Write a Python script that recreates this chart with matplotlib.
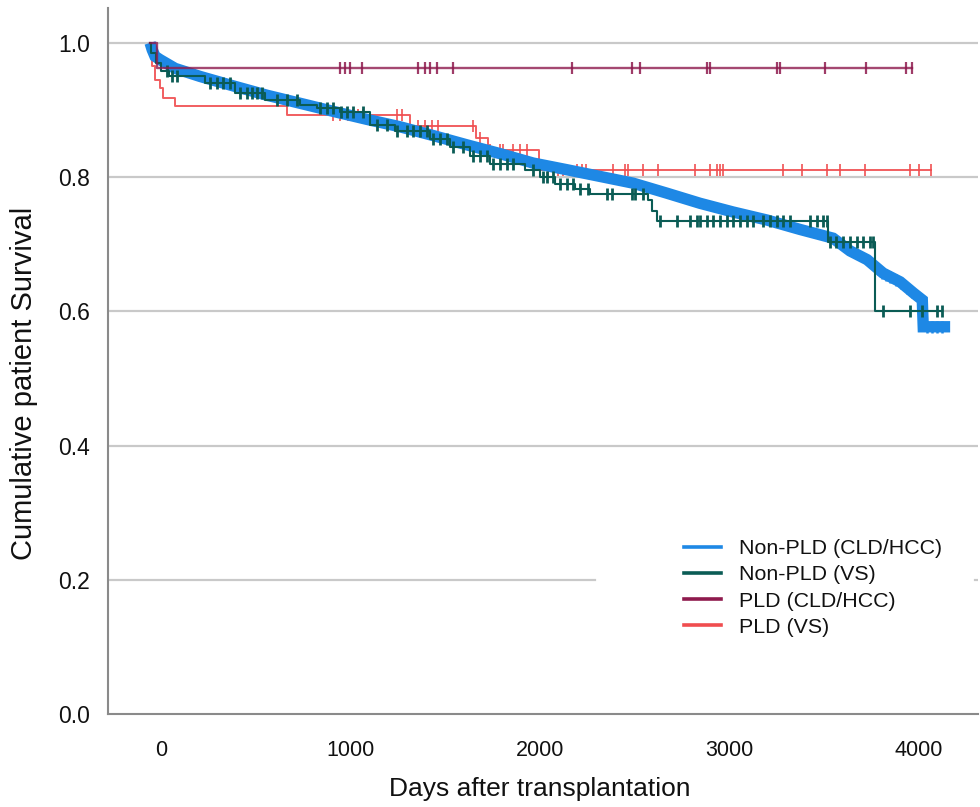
import numpy as np
import matplotlib.pyplot as plt
import matplotlib.transforms as mtransforms

plt.rcParams['font.family'] = ['Liberation Sans', 'DejaVu Sans']

# ---- values (days, cumulative survival) ----
# Non-PLD (CLD/HCC): very dense curve, read as points along the band
blue_days = [0, 11, 26, 53, 132, 264, 438, 617, 792, 966, 1145, 1319, 1493,
             1673, 1847, 2021, 2200, 2375, 2549, 2728, 2902, 3077, 3256, 3430,
             3604, 3694, 3784, 3868, 3958, 4030, 4075, 4080, 4222]
blue_surv = [1.0, 0.99, 0.98, 0.975, 0.962, 0.95, 0.936, 0.922, 0.91, 0.898,
             0.886, 0.875, 0.862, 0.848, 0.835, 0.821, 0.811, 0.801, 0.791,
             0.776, 0.761, 0.748, 0.736, 0.722, 0.709, 0.69, 0.677, 0.657,
             0.644, 0.627, 0.617, 0.577, 0.577]
blue_censor = [3840, 3865, 3885, 3905, 3935, 3965, 3995, 4020,
               4100, 4127, 4153, 4179]

# Non-PLD (VS)
teal_event_days = [5, 30, 60, 100, 290, 449, 607, 792, 881, 1003, 1161, 1293,
                   1478, 1583, 1689, 1794, 1979, 2058, 2137, 2243, 2322, 2628,
                   2649, 2675, 3578, 3826]
teal_event_surv = [0.985, 0.97, 0.958, 0.95, 0.94, 0.925, 0.915, 0.908, 0.903,
                   0.897, 0.878, 0.868, 0.857, 0.845, 0.832, 0.82, 0.81, 0.80,
                   0.79, 0.782, 0.775, 0.766, 0.75, 0.735, 0.703, 0.600]
teal_censor = [90, 116, 142, 317, 354, 385, 422, 475, 512, 538, 565, 591, 670,
               723, 776, 897, 934, 966, 1010, 1040, 1071, 1124, 1198, 1251,
               1303, 1356, 1388, 1425, 1462, 1493, 1530, 1567, 1599, 1652,
               1704, 1741, 1778, 1810, 1847, 1884, 1916, 2021, 2074, 2095,
               2127, 2163, 2200, 2232, 2269, 2311, 2411, 2438, 2543, 2559,
               2601, 2690, 2781, 2850, 2887, 2902, 2939, 2971, 3008, 3045,
               3077, 3113, 3150, 3182, 3235, 3272, 3309, 3340, 3377, 3483,
               3520, 3552, 3570, 3590, 3620, 3657, 3694, 3731, 3762, 3799,
               3815, 3868, 4010, 4073, 4153, 4179]

# PLD (CLD/HCC)
maroon_event_days = [37]
maroon_event_surv = [0.962]
maroon_censor = [1003, 1029, 1055, 1119, 1414, 1451, 1478, 1514, 1599, 2227,
                 2543, 2586, 2939, 2955, 3309, 3324, 3562, 3778, 3989, 4020]

# PLD (VS)
red_event_days = [8, 26, 53, 69, 132, 723, 1372, 1720, 1784, 2053]
red_event_surv = [0.965, 0.945, 0.933, 0.918, 0.906, 0.893, 0.876, 0.858,
                  0.840, 0.811]
red_censor = [966, 1003, 1045, 1071, 1098, 1124, 1303, 1330, 1414, 1451, 1488,
              1520, 1704, 1741, 1794, 1847, 1863, 1916, 1953, 1990, 2100, 2153,
              2179, 2253, 2280, 2301, 2443, 2506, 2522, 2601, 2681, 2876, 2955,
              2992, 3008, 3024, 3340, 3441, 3573, 3641, 3773, 4010, 4058, 4121]

labels = ['Non-PLD (CLD/HCC)', 'Non-PLD (VS)', 'PLD (CLD/HCC)', 'PLD (VS)']
colors = ['#1e88e5', '#0b5c55', '#8e1a4d', '#f04d4f']
x_ticks = [0, 1000, 2000, 3000, 4000]
y_ticks = [0.0, 0.2, 0.4, 0.6, 0.8, 1.0]


def km_path(event_days, event_surv, censor):
    end = max(censor[-1], event_days[-1])
    x = np.r_[0, event_days, end]
    y = np.r_[1.0, event_surv, event_surv[-1]]
    return x, y


def surv_at(x, y, t):
    idx = np.searchsorted(x, t, side='right') - 1
    return y[idx]


fig = plt.figure(figsize=(9.8, 8.07), dpi=100)
ax = fig.add_axes([108 / 980, 1 - 714 / 807, 870 / 980, 706 / 807])

# grid lines (the 0.2 line is interrupted by the legend)
for yv in y_ticks[2:]:
    ax.axhline(yv, color='#c9c9c9', lw=1.6, zorder=0)
ax.axhline(0.2, xmin=0, xmax=0.56, color='#c9c9c9', lw=1.6, zorder=0)
ax.axhline(0.2, xmin=0.996, xmax=1.0, color='#c9c9c9', lw=1.6, zorder=0)

# PLD (VS)
rx, ry = km_path(red_event_days, red_event_surv, red_censor)
ax.plot(rx, ry, drawstyle='steps-post', color=colors[3], lw=1.4, zorder=2,
        alpha=0.9)
ax.plot(red_censor, surv_at(rx, ry, red_censor), ls='none', marker='|',
        ms=8, mew=1.3, color=colors[3], zorder=2, alpha=0.9)

# Non-PLD (CLD/HCC)
ax.plot(blue_days, blue_surv, color=colors[0], lw=8.2, zorder=3,
        solid_capstyle='butt', solid_joinstyle='miter')
ax.plot(blue_censor, np.interp(blue_censor, blue_days, blue_surv), ls='none',
        marker='|', ms=9, mew=1.8, color=colors[0], zorder=3)

# Non-PLD (VS)
tx, ty = km_path(teal_event_days, teal_event_surv, teal_censor)
ax.plot(tx, ty, drawstyle='steps-post', color=colors[1], lw=1.5, zorder=4)
ax.plot(teal_censor, surv_at(tx, ty, teal_censor), ls='none', marker='|',
        ms=9, mew=2.0, color=colors[1], zorder=4)

# PLD (CLD/HCC)
mx, my = km_path(maroon_event_days, maroon_event_surv, maroon_censor)
ax.plot(mx, my, drawstyle='steps-post', color=colors[2], lw=1.7, zorder=5,
        alpha=0.8)
ax.plot(maroon_censor, surv_at(mx, my, maroon_censor), ls='none', marker='|',
        ms=8, mew=1.6, color=colors[2], zorder=5, alpha=0.85)

ax.set_xlim(-222, 4369)
ax.set_ylim(0, 1.052)
ax.set_xticks(x_ticks)
ax.set_xticklabels([str(v) for v in x_ticks])
ax.set_yticks(y_ticks)
ax.set_yticklabels([f'{v:.1f}' for v in y_ticks])
ax.tick_params(axis='x', length=0, pad=19, labelsize=15.5, labelcolor='#111111')
ax.tick_params(axis='y', length=0, pad=13, labelsize=16.5, labelcolor='#111111')

# the published tick labels sit a little right of the data zero
offset = mtransforms.ScaledTranslation(11 / 100, 0, fig.dpi_scale_trans)
for lab in ax.get_xticklabels():
    lab.set_transform(lab.get_transform() + offset)

for side in ['top', 'right']:
    ax.spines[side].set_visible(False)
for side in ['left', 'bottom']:
    ax.spines[side].set_color('#8a8a8a')
    ax.spines[side].set_linewidth(1.5)

fig.text(540 / 980, 1 - 789 / 807, 'Days after transplantation', fontsize=19,
         ha='center', va='center', color='#111111')
fig.text(24 / 980, 1 - 383 / 807, 'Cumulative patient Survival', fontsize=21,
         ha='center', va='center', rotation=90, color='#111111')

handles = [plt.Line2D([], [], color=c, lw=2.6) for c in colors]
leg = fig.legend(handles, labels, loc='center left',
                 bbox_to_anchor=(684 / 980, 1 - 588 / 807), frameon=False,
                 fontsize=15.4, handlelength=1.75, handletextpad=0.8,
                 labelspacing=0.33, borderpad=0, borderaxespad=0)
for t in leg.get_texts():
    t.set_color('#111111')

fig.savefig('out.png', dpi=100)
